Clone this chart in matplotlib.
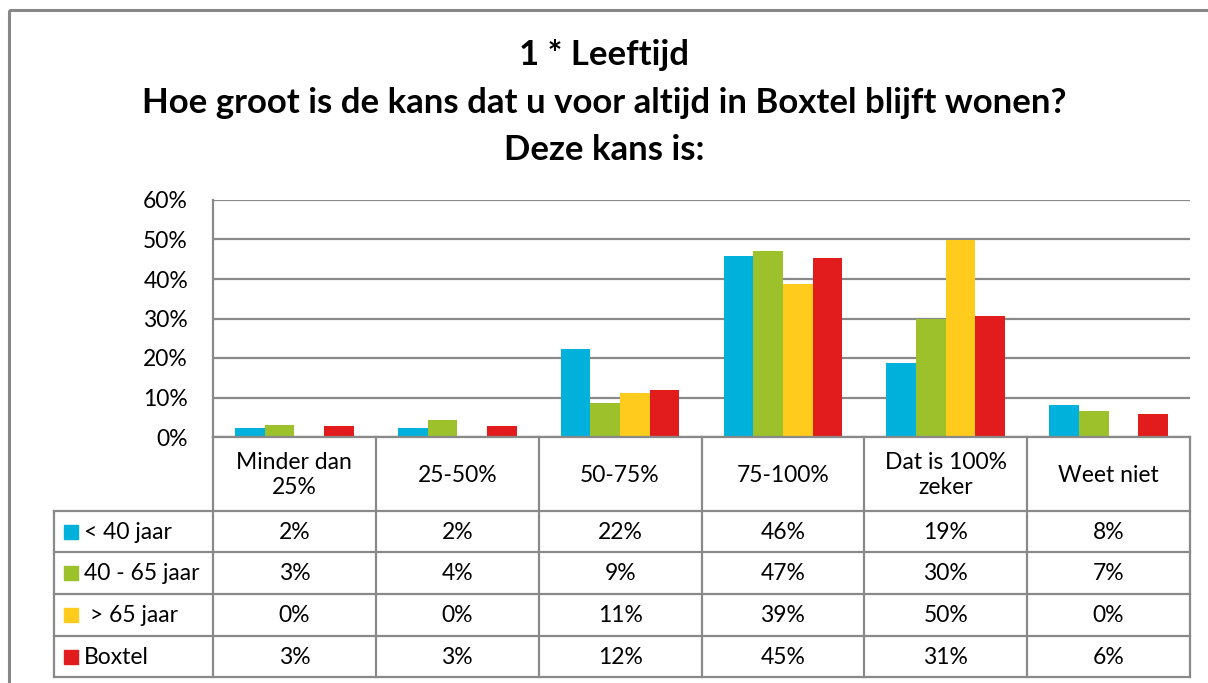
import numpy as np
import matplotlib
matplotlib.use("Agg")
from matplotlib import pyplot as plt
from matplotlib.patches import Rectangle

plt.rcParams['font.family'] = ['Lato', 'DejaVu Sans']

# data (percent)
categories = ["Minder dan\n25%", "25-50%", "50-75%", "75-100%", "Dat is 100%\nzeker", "Weet niet"]
series_names = ["< 40 jaar", "40 - 65 jaar", " > 65 jaar", "Boxtel"]
jonger_40 = [2.3, 2.3, 22.3, 45.7, 18.7, 8.1]
tussen_40_65 = [3.1, 4.3, 8.6, 47.1, 29.9, 6.6]
ouder_65 = [0.0, 0.0, 11.2, 38.7, 49.9, 0.0]
boxtel = [2.9, 2.9, 11.9, 45.2, 30.7, 5.7]
colors = ["#00B1DB", "#9CC12B", "#FFCC1D", "#E21C1C"]
y_ticks = [0, 10, 20, 30, 40, 50, 60]

series = [jonger_40, tussen_40_65, ouder_65, boxtel]

W, H = 1208, 683
fig = plt.figure(figsize=(W / 100, H / 100), dpi=100)
fs = 16.5

# plot area in pixels
px_left, px_right, px_top, px_bottom = 213, 1190, 200, 437
ax = fig.add_axes([px_left / W, 1 - px_bottom / H, (px_right - px_left) / W, (px_bottom - px_top) / H])

n_cat = len(categories)
bar_w = 0.182
x = np.arange(n_cat)
for k, vals in enumerate(series):
    ax.bar(x + (k - 1.5) * bar_w, vals, width=bar_w, color=colors[k], zorder=3)

ax.set_xlim(-0.5, n_cat - 0.5)
ax.set_ylim(0, 60)
ax.set_yticks(y_ticks)
ax.set_yticklabels(["%d%%" % t for t in y_ticks], fontsize=fs)
ax.tick_params(axis='y', length=0, pad=18)
ax.set_xticks([])
ax.grid(axis='y', color='#898989', lw=1.6, zorder=0)
for s in ['top', 'right', 'bottom']:
    ax.spines[s].set_visible(False)
ax.spines['left'].set_color('#898989')
ax.spines['left'].set_linewidth(1.6)

# overlay in pixel coordinates for title, table and frame
ov = fig.add_axes([0, 0, 1, 1], zorder=5)
ov.set_xlim(0, W)
ov.set_ylim(H, 0)
ov.axis('off')

ov.add_patch(Rectangle((9, 10), 1300, 800, fill=False, ec='#878787', lw=2.2))

title_fs = 25
ov.text(604, 55, "1 * Leeftijd", ha='center', va='center', fontsize=title_fs, fontweight='bold')
ov.text(604, 103, "Hoe groot is de kans dat u voor altijd in Boxtel blijft wonen?", ha='center', va='center',
        fontsize=title_fs, fontweight='bold')
ov.text(604, 150, "Deze kans is:", ha='center', va='center', fontsize=title_fs, fontweight='bold')

# data table
grid_c = '#898989'
lw = 1.6
row_edges = [437, 511, 552, 594, 636, 677]
col_w = (px_right - px_left) / n_cat
tab_left = 54

for i, y in enumerate(row_edges):
    x0 = px_left if i == 0 else tab_left
    ov.plot([x0, px_right], [y, y], color=grid_c, lw=lw, solid_capstyle='projecting')
for j in range(n_cat + 1):
    xx = px_left + j * col_w
    ov.plot([xx, xx], [row_edges[0], row_edges[-1]], color=grid_c, lw=lw)
ov.plot([tab_left, tab_left], [row_edges[1], row_edges[-1]], color=grid_c, lw=lw)

for j, cat in enumerate(categories):
    cx = px_left + (j + 0.5) * col_w
    ov.text(cx, (row_edges[0] + row_edges[1]) / 2 + 1, cat, ha='center', va='center', fontsize=fs,
            linespacing=1.2)

for k, vals in enumerate(series):
    cy = (row_edges[k + 1] + row_edges[k + 2]) / 2
    ov.add_patch(Rectangle((64, cy - 7), 14, 14, color=colors[k]))
    ov.text(84, cy + 1, series_names[k], ha='left', va='center', fontsize=fs)
    for j, v in enumerate(vals):
        cx = px_left + (j + 0.5) * col_w
        ov.text(cx, cy + 1, "%d%%" % int(round(v)), ha='center', va='center', fontsize=fs)

fig.savefig("out.png", dpi=100)
